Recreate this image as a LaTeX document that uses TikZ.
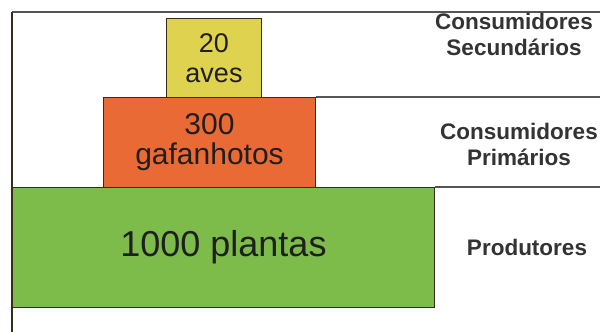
\documentclass[tikz,border=0pt]{standalone}
\usepackage{fontspec}
\setmainfont{Liberation Sans}
\definecolor{cyel}{HTML}{DFD24E}
\definecolor{corg}{HTML}{EA6A36}
\definecolor{cgrn}{HTML}{7DBB4A}
\definecolor{cedge}{HTML}{3A2A1A}
\definecolor{clab}{HTML}{333333}
\definecolor{cline}{HTML}{555555}
\begin{document}
\begin{tikzpicture}[x=1pt,y=-1pt,
  level/.style={draw=cedge,line width=1pt,anchor=north west,inner sep=0pt,align=center,text=black!88},
  lab/.style={text=clab,font=\fontsize{22.5}{26}\selectfont\bfseries,align=center},
  frame/.style={draw=cline,line width=1.4pt}]
\useasboundingbox (0,0) rectangle (600,332);
\coordinate (tl) at (12,12);
\coordinate (tr) at (600,12);
\coordinate (bl) at (12,332);
\node[level,fill=cyel,minimum width=95pt,minimum height=79pt,font=\fontsize{27}{30}\selectfont] (aves) at (166,18) {20\\aves};
\node[level,fill=corg,minimum width=212pt,minimum height=90pt,font=\fontsize{30}{30}\selectfont] (gaf) at (103,97) {300\\gafanhotos};
\node[level,fill=cgrn,minimum width=422pt,minimum height=120pt,font=\fontsize{36}{40}\selectfont] (pla) at (12,187) {1000 plantas};
\coordinate (r1) at (600,97);
\coordinate (r2) at (600,187);
\draw[frame] (gaf.north east) -- (r1);
\draw[frame] (pla.north east) -- (r2);
\draw[frame] (tl) -- (tr);
\draw[draw=cedge,line width=1.6pt] (tl) -- (bl);
\node[lab] (sec) at (514,34) {Consumidores\\Secundários};
\node[lab] (pri) at (519,144) {Consumidores\\Primários};
\node[lab] (pro) at (527,247) {Produtores};
\end{tikzpicture}
\end{document}
